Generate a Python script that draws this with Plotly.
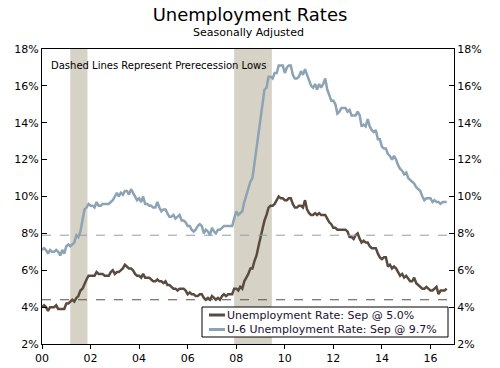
import pandas as pd
import plotly.graph_objects as go

# Monthly data, Jan 2000 - Sep 2016 (percent)
unrate = [
    4.0, 4.1, 4.0, 3.8, 4.0, 4.0, 4.0, 4.1, 3.9, 3.9, 3.9, 3.9,
    4.2, 4.2, 4.3, 4.4, 4.3, 4.5, 4.6, 4.9, 5.0, 5.3, 5.5, 5.7,
    5.7, 5.7, 5.7, 5.9, 5.8, 5.8, 5.8, 5.7, 5.7, 5.7, 5.9, 6.0,
    5.8, 5.9, 5.9, 6.0, 6.1, 6.3, 6.2, 6.1, 6.1, 6.0, 5.8, 5.7,
    5.7, 5.6, 5.8, 5.6, 5.6, 5.6, 5.5, 5.4, 5.4, 5.5, 5.4, 5.4,
    5.3, 5.4, 5.2, 5.2, 5.1, 5.0, 5.0, 4.9, 5.0, 5.0, 5.0, 4.9,
    4.7, 4.8, 4.7, 4.7, 4.6, 4.6, 4.7, 4.7, 4.5, 4.4, 4.5, 4.4,
    4.6, 4.5, 4.4, 4.5, 4.4, 4.6, 4.7, 4.6, 4.7, 4.7, 4.7, 5.0,
    5.0, 4.9, 5.1, 5.0, 5.4, 5.6, 5.8, 6.1, 6.1, 6.5, 6.8, 7.3,
    7.8, 8.3, 8.7, 9.0, 9.4, 9.5, 9.5, 9.6, 9.8, 10.0, 9.9, 9.9,
    9.8, 9.8, 9.9, 9.9, 9.6, 9.4, 9.4, 9.5, 9.5, 9.4, 9.8, 9.3,
    9.1, 9.0, 9.0, 9.1, 9.0, 9.1, 9.0, 9.0, 9.0, 8.8, 8.6, 8.5,
    8.3, 8.3, 8.2, 8.2, 8.2, 8.2, 8.2, 8.1, 7.8, 7.8, 7.7, 7.9,
    8.0, 7.7, 7.5, 7.6, 7.5, 7.5, 7.3, 7.2, 7.2, 7.2, 6.9, 6.7,
    6.6, 6.7, 6.7, 6.2, 6.3, 6.1, 6.2, 6.1, 5.9, 5.7, 5.8, 5.6,
    5.7, 5.5, 5.4, 5.4, 5.6, 5.3, 5.2, 5.1, 5.0, 5.0, 5.1, 5.0,
    4.9, 4.9, 5.0, 5.1, 4.7, 4.9, 4.9, 4.9, 5.0,
]
u6rate = [
    7.1, 7.2, 7.1, 6.9, 7.1, 7.0, 7.0, 7.1, 7.0, 6.8, 7.1, 6.9,
    7.3, 7.4, 7.3, 7.4, 7.5, 7.9, 7.8, 8.1, 8.7, 9.3, 9.4, 9.6,
    9.5, 9.5, 9.4, 9.7, 9.5, 9.5, 9.6, 9.6, 9.6, 9.6, 9.7, 9.8,
    10.0, 10.2, 10.0, 10.2, 10.1, 10.3, 10.3, 10.1, 10.4, 10.2, 10.0, 9.8,
    9.9, 9.7, 10.0, 9.6, 9.6, 9.5, 9.5, 9.4, 9.4, 9.7, 9.4, 9.2,
    9.3, 9.3, 9.1, 8.9, 8.9, 9.0, 8.8, 8.9, 9.0, 8.7, 8.7, 8.6,
    8.4, 8.4, 8.2, 8.1, 8.2, 8.4, 8.5, 8.4, 8.0, 8.2, 8.1, 7.9,
    8.3, 8.1, 8.0, 8.2, 8.2, 8.3, 8.4, 8.4, 8.4, 8.4, 8.4, 8.8,
    9.2, 9.0, 9.1, 9.2, 9.7, 10.1, 10.5, 10.8, 11.0, 11.8, 12.6, 13.6,
    14.2, 15.2, 15.8, 15.9, 16.5, 16.5, 16.4, 16.7, 16.7, 17.1, 17.1, 17.1,
    16.7, 17.0, 17.1, 17.1, 16.6, 16.4, 16.4, 16.5, 16.8, 16.6, 16.9, 16.6,
    16.2, 16.0, 15.9, 16.1, 15.8, 16.1, 15.9, 16.1, 16.4, 15.8, 15.5, 15.2,
    15.2, 15.0, 14.5, 14.6, 14.8, 14.8, 14.8, 14.6, 14.7, 14.4, 14.4, 14.4,
    14.6, 14.4, 13.8, 13.9, 13.8, 14.2, 13.8, 13.6, 13.5, 13.6, 13.1, 13.1,
    12.7, 12.6, 12.6, 12.3, 12.2, 12.0, 12.2, 12.0, 11.7, 11.5, 11.4, 11.2,
    11.3, 11.0, 10.9, 10.8, 10.7, 10.5, 10.4, 10.3, 10.0, 9.8, 9.9, 9.9,
    9.9, 9.7, 9.8, 9.7, 9.7, 9.6, 9.7, 9.7, 9.7,
]
dates = pd.date_range("2000-01-01", periods=len(unrate), freq="MS")

prerecession_low_ur = 4.4
prerecession_low_u6 = 7.9
recessions = [("2001-03-01", "2001-11-15"), ("2007-12-01", "2009-06-20")]

tick_vals = ["2000-01-01", "2002-01-01", "2004-01-01", "2006-01-01", "2008-01-01",
             "2010-01-01", "2012-01-01", "2014-01-01", "2016-01-01"]
tick_text = ["00", "02", "04", "06", "08", "10", "12", "14", "16"]

legend_labels = ["Unemployment Rate: Sep @ 5.0%", "U-6 Unemployment Rate: Sep @ 9.7%"]

C_UR = "#5a4b40"
C_U6 = "#8ba3b4"
C_REC = "#d6d2c5"
FONT = "DejaVu Sans"

fig = go.Figure()
fig.add_trace(go.Scatter(x=dates, y=u6rate, mode="lines", line=dict(color=C_U6, width=2.5),
                         name=legend_labels[1], showlegend=False))
fig.add_trace(go.Scatter(x=dates, y=unrate, mode="lines", line=dict(color=C_UR, width=2.5),
                         name=legend_labels[0], showlegend=False))
# invisible trace to anchor right axis
fig.add_trace(go.Scatter(x=dates[:1], y=unrate[:1], yaxis="y2", mode="lines",
                         line=dict(width=0), showlegend=False, hoverinfo="skip"))

for s, e in recessions:
    fig.add_vrect(x0=s, x1=e, fillcolor=C_REC, line_width=0, layer="below")

fig.add_hline(y=prerecession_low_u6, line=dict(color="#8f9ea8", width=1, dash="dash"))
fig.add_hline(y=prerecession_low_ur, line=dict(color="#555049", width=1, dash="dash"))

# Manual legend (paper coords of plot area)
PX0, PX1, PY0, PY1 = 42, 454, 49, 344
def px(x):
    return (x - PX0) / (PX1 - PX0)
def py(y):
    return (PY1 - y) / (PY1 - PY0)

fig.add_shape(type="rect", xref="paper", yref="paper", x0=px(202), x1=px(448),
              y0=py(337), y1=py(307), line=dict(color="black", width=1), fillcolor="white")
for i, (lab, col) in enumerate(zip(legend_labels, [C_UR, C_U6])):
    yy = 315 + i * 14.5
    fig.add_shape(type="line", xref="paper", yref="paper", x0=px(209), x1=px(225),
                  y0=py(yy), y1=py(yy), line=dict(color=col, width=3))
    fig.add_annotation(xref="paper", yref="paper", x=px(225), y=py(yy), text=lab,
                       showarrow=False, xanchor="left", yanchor="middle",
                       font=dict(family=FONT, size=11, color="#1a1030"))

fig.add_annotation(xref="paper", yref="paper", x=px(49), y=py(65),
                   text="Dashed Lines Represent Prerecession Lows", showarrow=False,
                   xanchor="left", yanchor="middle",
                   font=dict(family=FONT, size=10, color="black"))

fig.add_annotation(xref="paper", yref="paper", x=0.5, y=py(32),
                   text="Seasonally Adjusted", showarrow=False, xanchor="center",
                   yanchor="middle", font=dict(family=FONT, size=11, color="black"))

axis_common = dict(range=[2, 18], dtick=2, tick0=2, ticksuffix="%", showgrid=False,
                   zeroline=False, showline=True, linecolor="black", linewidth=1,
                   ticks="inside", ticklen=5, tickcolor="black", automargin=False,
                   tickfont=dict(family=FONT, size=11, color="black"))

fig.update_layout(
    width=500, height=368,
    margin=dict(l=PX0, r=500 - PX1, t=PY0, b=368 - PY1, autoexpand=False),
    paper_bgcolor="white", plot_bgcolor="white",
    title=dict(text="Unemployment Rates", x=0.5, xanchor="center", y=1 - 15 / 368,
               yanchor="middle", automargin=False,
               font=dict(family=FONT, size=18, color="black")),
    xaxis=dict(type="date", range=["2000-01-01", "2016-12-20"], tickvals=tick_vals,
               ticktext=tick_text, showgrid=False, zeroline=False, showline=True,
               mirror=True, linecolor="black", linewidth=1, ticks="outside", ticklen=4,
               tickcolor="black", automargin=False,
               tickfont=dict(family=FONT, size=11, color="black")),
    yaxis=dict(**axis_common, side="left"),
    yaxis2=dict(**axis_common, side="right", overlaying="y"),
    showlegend=False,
)

fig.write_html("out.html", config={"displayModeBar": False},
               post_script="document.body.style.margin='0';document.body.style.padding='0';")
